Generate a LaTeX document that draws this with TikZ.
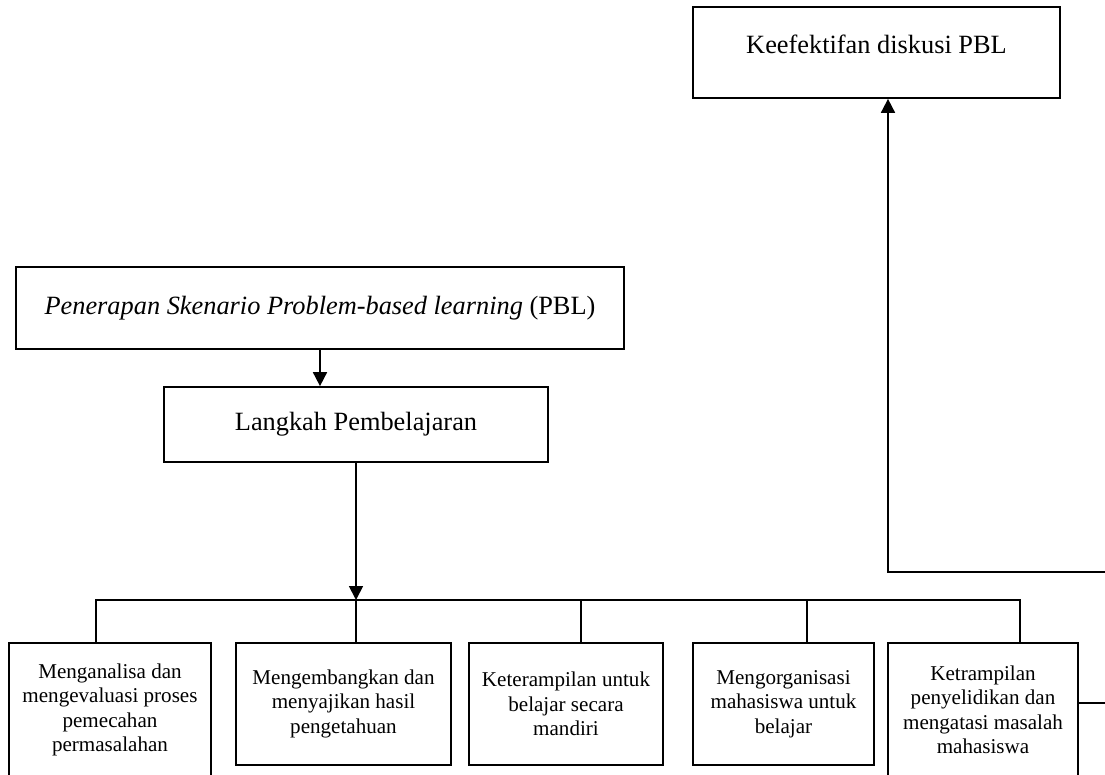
\documentclass[tikz,border=0pt]{standalone}
\usepackage{fontspec}
\setmainfont{Liberation Serif}
\usetikzlibrary{arrows.meta}
\begin{document}
\begin{tikzpicture}[x=0.02cm,y=-0.02cm,line width=1pt,
  kotak/.style={draw,inner sep=2pt,font=\fontsize{15}{17}\selectfont},
  langkah/.style={draw,anchor=north,align=center,inner sep=2pt,font=\fontsize{12}{14}\selectfont},
  panah/.style={-{Triangle[length=0.28cm,width=0.28cm]}}]
\useasboundingbox (0,0) rectangle (1105,774);
\clip (0,0) rectangle (1105,774);
\node[kotak,minimum width=7.34cm,minimum height=1.82cm,text depth=9.6pt] (eff) at (876.5,52.5) {Keefektifan diskusi PBL};
\node[kotak,minimum width=12.16cm,minimum height=1.64cm] (pbl) at (320,308) {\textit{Penerapan Skenario Problem-based learning} (PBL)};
\node[kotak,minimum width=7.68cm,minimum height=1.5cm] (lang) at (356,424.5) {Langkah Pembelajaran};
\node[langkah,minimum width=4.04cm,minimum height=2.68cm] (m1) at (110,642) {Menganalisa dan\\mengevaluasi proses\\pemecahan\\permasalahan};
\node[langkah,minimum width=4.3cm,minimum height=2.44cm] (m2) at (343.5,642) {Mengembangkan dan\\menyajikan hasil\\pengetahuan};
\node[langkah,minimum width=3.88cm,minimum height=2.44cm] (m3) at (566,642) {Keterampilan untuk\\belajar secara\\mandiri};
\node[langkah,minimum width=3.62cm,minimum height=2.44cm] (m4) at (783.5,642) {Mengorganisasi\\mahasiswa untuk\\belajar};
\node[langkah,minimum width=3.8cm,minimum height=2.68cm] (m5) at (983,642) {Ketrampilan\\penyelidikan dan\\mengatasi masalah\\mahasiswa};
\coordinate (b1) at (96,600);
\coordinate (b5) at (1020,600);
\draw[panah] (pbl.south) -- (pbl.south |- lang.north);
\draw[panah] (lang.south) -- (lang.south |- b1);
\draw (m1.north -| b1) -- (b1) -- (b5) -- (m5.north -| b5);
\foreach \k/\x in {2/356,3/581,4/807}{
  \coordinate (b\k) at (\x,600);
  \draw (b\k) -- (b\k |- m\k.north);
}
\coordinate (r1) at (1105,703);
\coordinate (r2) at (1105,572);
\coordinate (k) at (888,572);
\draw (m5.east |- r1) -- (r1);
\draw[panah] (r2) -- (k) -- (k |- eff.south);
\end{tikzpicture}
\end{document}
